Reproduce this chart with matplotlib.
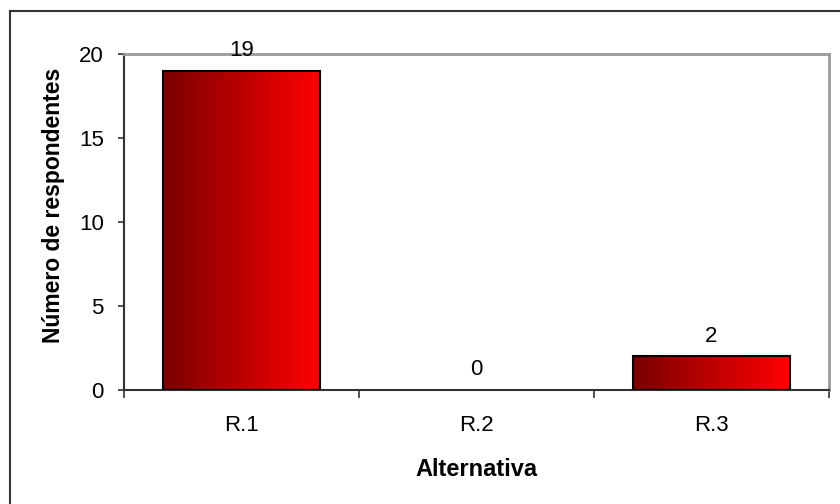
import matplotlib.pyplot as plt
import numpy as np
from matplotlib.colors import LinearSegmentedColormap
from matplotlib.patches import Rectangle

categories = ["R.1", "R.2", "R.3"]
values = [19, 0, 2]

plt.rcParams['font.family'] = ['Liberation Sans', 'DejaVu Sans']

fig = plt.figure(figsize=(8.4, 5.04), dpi=100)
# outer chart frame (only top and left edges show in the picture)
fig.add_artist(plt.Line2D([9.5 / 840, 9.5 / 840], [0, 1 - 11 / 504], color='#333333', lw=1.5))
fig.add_artist(plt.Line2D([9.5 / 840, 1], [1 - 11 / 504, 1 - 11 / 504], color='#333333', lw=1.5))

ax = fig.add_axes([124 / 840, 1 - 390 / 504, 705 / 840, 336 / 504])

x = np.arange(len(categories))
width = 0.67
cmap = LinearSegmentedColormap.from_list('red_grad', ['#7a0000', '#ff0000'])
grad = np.linspace(0, 1, 256).reshape(1, -1)

bars = ax.bar(x, values, width=width, color='none', edgecolor='black', linewidth=1.5, zorder=3)
for b, v in zip(bars, values):
    if v > 0:
        im = ax.imshow(grad, cmap=cmap, aspect='auto', zorder=2,
                       extent=[b.get_x(), b.get_x() + b.get_width(), 0, v])
        im.set_clip_path(Rectangle((b.get_x(), 0), b.get_width(), v, transform=ax.transData))
    else:
        b.set_linewidth(0)
    ax.annotate(str(v), (b.get_x() + b.get_width() / 2, v), xytext=(0, 7),
                textcoords='offset points', ha='center', va='bottom', fontsize=16)

ax.set_xlim(-0.5, len(categories) - 0.5)
ax.set_ylim(0, 20)
ax.set_yticks([0, 5, 10, 15, 20])
ax.set_xticks(x)
ax.set_xticklabels(categories)
ax.set_xticks(np.arange(-0.5, len(categories), 1), minor=True)
ax.tick_params(axis='x', which='major', length=0, pad=18, labelsize=16)
ax.tick_params(axis='x', which='minor', length=6, width=1.2, color='#333333')
ax.tick_params(axis='y', length=4.5, width=1.2, color='#333333', labelsize=16, pad=10)

ax.spines['left'].set_color('#333333')
ax.spines['bottom'].set_color('#333333')
ax.spines['top'].set_color('#999999')
ax.spines['right'].set_color('#999999')
ax.spines['left'].set_linewidth(1.5)
ax.spines['bottom'].set_linewidth(1.5)
ax.spines['top'].set_linewidth(2)
ax.spines['right'].set_linewidth(2)

ax.set_xlabel('Alternativa', fontsize=17, fontweight='bold', labelpad=16)
ax.set_ylabel('Número de respondentes', fontsize=16.5, fontweight='bold', labelpad=10, y=0.55)

fig.savefig('out.png', dpi=100)
